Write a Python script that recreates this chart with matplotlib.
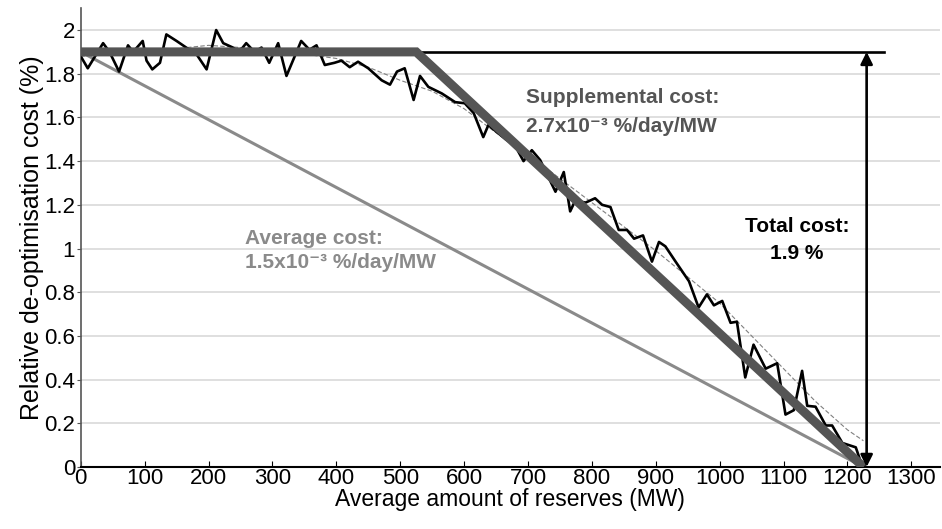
import numpy as np
import matplotlib
matplotlib.use('Agg')
from matplotlib import pyplot as plt

plt.rcParams['font.family'] = ['Liberation Sans', 'DejaVu Sans']

# measured relative de-optimisation cost (noisy)
mw = [0, 11, 35, 45, 60, 74, 82, 97, 103, 112, 124, 134, 150, 165, 181, 197,
      212, 223, 238, 248, 259, 272, 283, 295, 309, 322, 345, 358, 369, 382,
      397, 408, 421, 434, 450, 471, 484, 495, 507, 521, 531, 544, 565, 586,
      601, 615, 630, 638, 665, 680, 693, 706, 719, 743, 756, 766, 774, 790,
      805, 816, 829, 842, 855, 866, 880, 894, 905, 915, 931, 952, 967, 980,
      991, 1004, 1017, 1027, 1040, 1053, 1072, 1090, 1103, 1116, 1129, 1137,
      1150, 1166, 1176, 1192, 1213, 1220, 1228]
cost = [1.88, 1.825, 1.94, 1.90, 1.81, 1.93, 1.90, 1.95, 1.86, 1.82, 1.85,
        1.98, 1.95, 1.92, 1.89, 1.82, 2.00, 1.94, 1.92, 1.90, 1.94, 1.90,
        1.92, 1.85, 1.94, 1.79, 1.95, 1.91, 1.93, 1.84, 1.85, 1.86, 1.83,
        1.855, 1.825, 1.77, 1.75, 1.81, 1.825, 1.68, 1.79, 1.74, 1.71, 1.67,
        1.665, 1.62, 1.51, 1.565, 1.50, 1.47, 1.40, 1.45, 1.405, 1.26, 1.35,
        1.17, 1.22, 1.21, 1.23, 1.20, 1.19, 1.085, 1.085, 1.045, 1.06, 0.94,
        1.03, 1.01, 0.94, 0.85, 0.73, 0.79, 0.74, 0.76, 0.66, 0.665, 0.41,
        0.56, 0.45, 0.475, 0.24, 0.26, 0.44, 0.28, 0.276, 0.19, 0.19, 0.11,
        0.09, 0.03, 0.0]

# smoothed trend
trend_mw = [0, 100, 200, 300, 400, 450, 500, 550, 600, 650, 700, 750, 800,
            850, 900, 950, 1000, 1050, 1100, 1150, 1200, 1225]
trend = [1.88, 1.90, 1.93, 1.91, 1.87, 1.83, 1.77, 1.72, 1.64, 1.53, 1.43,
         1.32, 1.21, 1.10, 0.99, 0.87, 0.75, 0.60, 0.45, 0.30, 0.17, 0.12]

# piecewise approximation and average
approx_mw = [0, 525, 1225]
approx = [1.9, 1.9, 0]
avg_mw = [0, 1225]
avg = [1.9, 0]
total_mw = [525, 1257]
total = [1.9, 1.9]
arrow_x = 1230

fig = plt.figure(figsize=(9.42, 5.29), dpi=100)
ax = fig.add_axes([0.0857, 0.1172, 0.9123, 0.8673])

ax.plot(avg_mw, avg, color='#8a8a8a', lw=2.2, zorder=3)
ax.plot(trend_mw, trend, color='#808080', lw=0.8, ls=(0, (4, 2)), zorder=3)
ax.plot(mw, cost, color='black', lw=1.9, zorder=4)
ax.plot(approx_mw, approx, color='#555555', lw=6.5, solid_joinstyle='miter',
        solid_capstyle='butt', zorder=5)
ax.plot(total_mw, total, color='black', lw=1.9, zorder=4)
ax.annotate('', xy=(arrow_x, 0), xytext=(arrow_x, 1.9),
            arrowprops=dict(arrowstyle='<|-|>', color='black', lw=1.9,
                            mutation_scale=18, shrinkA=0, shrinkB=0), zorder=6)

fs = 15
ax.text(697, 1.69, 'Supplemental cost:', color='#555555', fontsize=fs,
        fontweight='bold', va='center')
ax.text(697, 1.557, '2.7x10⁻³ %/day/MW', color='#555555',
        fontsize=fs, fontweight='bold', va='center')
ax.text(257, 1.048, 'Average cost:', color='#8a8a8a', fontsize=fs,
        fontweight='bold', va='center')
ax.text(257, 0.934, '1.5x10⁻³ %/day/MW', color='#8a8a8a',
        fontsize=fs, fontweight='bold', va='center')
ax.text(1121, 1.099, 'Total cost:', color='black', fontsize=fs,
        fontweight='bold', va='center', ha='center')
ax.text(1121, 0.979, '1.9 %', color='black', fontsize=fs,
        fontweight='bold', va='center', ha='center')

ax.set_xlim(0, 1345)
ax.set_ylim(0, 2.1)
ax.set_xticks(np.arange(0, 1301, 100))
ax.set_yticks(np.arange(0, 2.01, 0.2))
ax.set_yticklabels(['0', '0.2', '0.4', '0.6', '0.8', '1', '1.2', '1.4', '1.6',
                    '1.8', '2'])
ax.grid(axis='y', color='#d9d9d9', lw=1.2)
ax.set_axisbelow(True)
for s in ['top', 'right']:
    ax.spines[s].set_visible(False)
ax.spines['left'].set_color('#555555')
ax.spines['bottom'].set_color('black')
ax.spines['left'].set_linewidth(1.2)
ax.spines['bottom'].set_linewidth(1.5)

ax.tick_params(axis='y', direction='out', length=3, pad=1, labelsize=16,
               color='#555555')
ax.tick_params(axis='x', direction='in', length=4, pad=1, labelsize=16)

ax.set_ylabel('Relative de-optimisation cost (%)', fontsize=18, labelpad=0)
ax.set_xlabel('Average amount of reserves (MW)', fontsize=16.5, labelpad=-1)

fig.savefig('out.png', dpi=100)
